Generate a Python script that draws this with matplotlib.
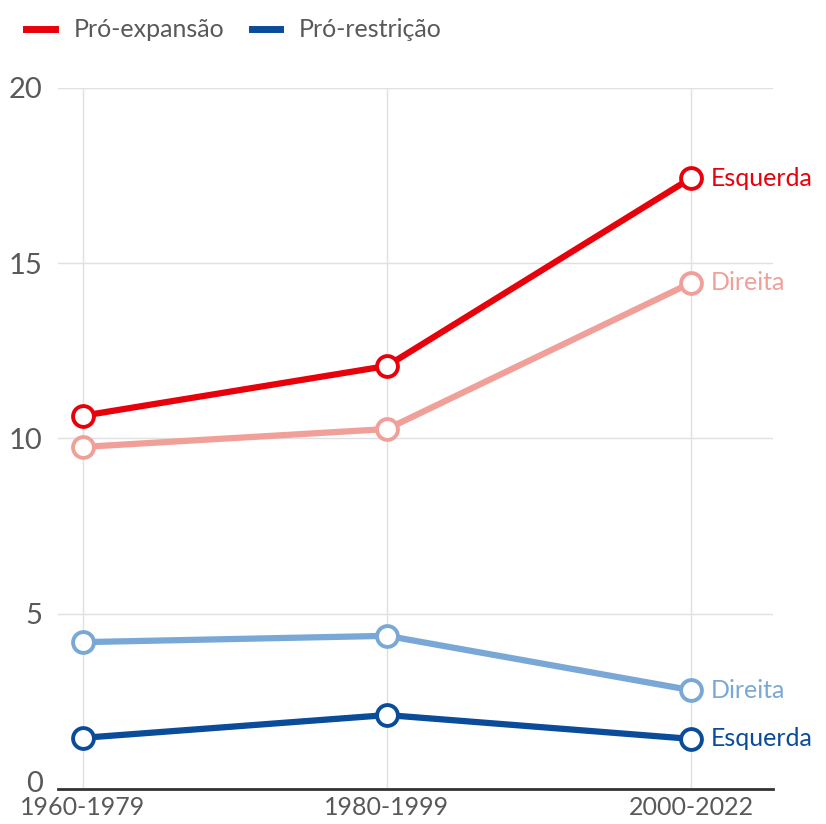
import matplotlib
matplotlib.use("Agg")
from matplotlib import pyplot as plt
from matplotlib.lines import Line2D
from matplotlib.transforms import ScaledTranslation

# dados
periodos = ["1960-1979", "1980-1999", "2000-2022"]
expansao_esquerda = [10.65, 12.07, 17.43]
expansao_direita = [9.76, 10.27, 14.44]
restricao_direita = [4.19, 4.37, 2.82]
restricao_esquerda = [1.46, 2.11, 1.43]

series = [
    (expansao_esquerda, "#e8000b", "Esquerda"),
    (expansao_direita, "#f09f99", "Direita"),
    (restricao_direita, "#79a8d6", "Direita"),
    (restricao_esquerda, "#0a4b9a", "Esquerda"),
]

plt.rcParams["font.family"] = ["Lato", "DejaVu Sans"]

fig = plt.figure(figsize=(8.26, 8.24), dpi=100)
ax = fig.add_axes([58 / 826, 1 - 789 / 824, (773 - 58) / 826, (789 - 88) / 824])

x = list(range(len(periodos)))
for vals, cor, nome in series:
    ax.plot(x, vals, color=cor, lw=4.5, marker="o", ms=15,
            mfc="white", mec=cor, mew=2.8, zorder=3, solid_capstyle="round")
    ax.annotate(nome, (x[-1], vals[-1]), xytext=(14, 0), textcoords="offset points",
                color=cor, fontsize=18, va="center", ha="left")

# eixo x: 83 -> 0, 691 -> 2
ax.set_xlim((58 - 83) / 304, 2 + (773 - 691) / 304)
ax.set_ylim(0, 20)
ax.set_yticks([0, 5, 10, 15, 20])
ax.set_xticks(x)
ax.set_xticklabels(periodos)
ax.grid(color="#e0e0e0", lw=1)
ax.set_axisbelow(True)
for s in ["top", "right", "left"]:
    ax.spines[s].set_visible(False)
ax.spines["bottom"].set_color("#333333")
ax.spines["bottom"].set_linewidth(2)
ax.tick_params(length=0, labelcolor="#595959")
ax.tick_params(axis="y", pad=11, labelsize=21)
ax.tick_params(axis="x", pad=5, labelsize=18)

# o "0" fica um pouco acima do eixo
zero = ax.get_yticklabels()[0]
zero.set_transform(zero.get_transform() + ScaledTranslation(0, 8 / 100, fig.dpi_scale_trans))

handles = [Line2D([], [], color="#e8000b", lw=5),
           Line2D([], [], color="#0a4b9a", lw=5)]
fig.legend(handles, ["Pró-expansão", "Pró-restrição"], loc="upper left",
           bbox_to_anchor=(0.004, 1.005), ncol=2, frameon=False, fontsize=18,
           handlelength=1.15, handletextpad=0.75, columnspacing=1.1,
           labelcolor="#595959")

fig.savefig("out.png", dpi=100)
